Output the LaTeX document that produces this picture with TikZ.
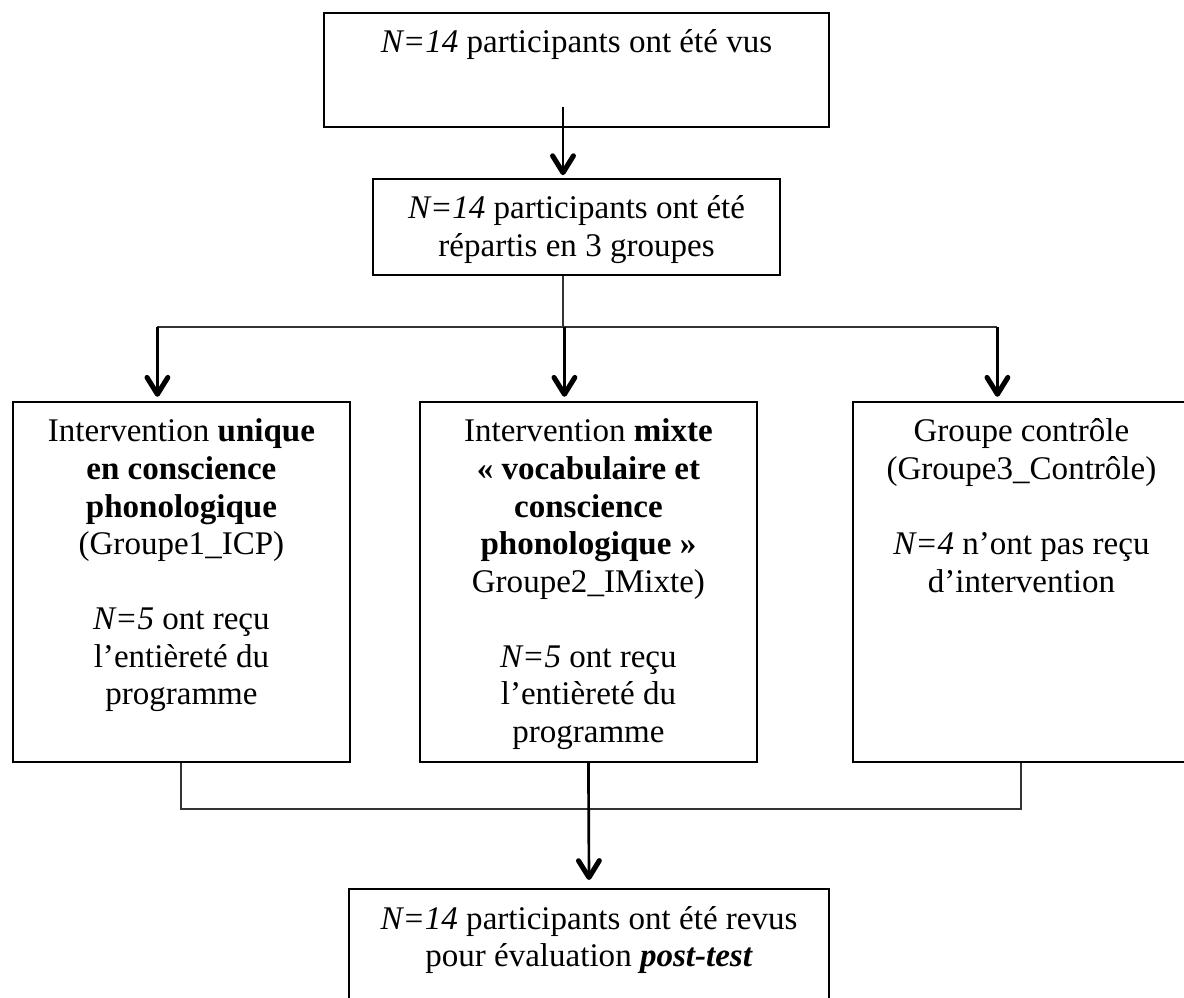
\documentclass[tikz,border=0pt]{standalone}
\usepackage{fontspec}
\setmainfont{Liberation Serif}
\usetikzlibrary{arrows.meta}

% text of a box: fixed size, lines from the top
\newcommand{\boxtext}[3]{\parbox[c][#2][t]{#1}{\centering\fontsize{23.5pt}{26.7pt}\selectfont\rule{0pt}{1cm}#3}}

\begin{document}
\begin{tikzpicture}[x=0.025cm,y=-0.025cm,
  box/.style={draw,line width=1.4pt,inner sep=0pt,anchor=north west},
  link/.style={line width=1.4pt,black!80},
  arr/.style={line width=1.9pt,-{Straight Barb[length=4.2mm,width=5.2mm,line width=3.6pt,round]}}]
  \useasboundingbox (0,0) rectangle (1184,998);

  \node[box] (seen) at (323,12) {\boxtext{12.625cm}{2.85cm}{\textit{N=14} participants ont été vus}};
  \node[box] (split) at (372,178) {\boxtext{10.175cm}{2.4cm}{\textit{N=14} participants ont été\\ répartis en 3 groupes}};

  \node[box] (icp) at (12,401) {\boxtext{8.42cm}{9cm}{Intervention \textbf{unique}\\ \textbf{en conscience}\\ \textbf{phonologique}\\ (Groupe1\_ICP)\\[\baselineskip] \textit{N=5} ont reçu\\ l’entièreté du\\ programme}};
  \node[box] (mixte) at (419,401) {\boxtext{8.42cm}{9cm}{Intervention \textbf{mixte}\\ \textbf{« vocabulaire et}\\ \textbf{conscience}\\ \textbf{phonologique »}\\ Groupe2\_IMixte)\\[\baselineskip] \textit{N=5} ont reçu\\ l’entièreté du\\ programme}};
  \node[box] (ctrl) at (852,401) {\boxtext{8.42cm}{9cm}{Groupe contrôle\\ (Groupe3\_Contrôle)\\[\baselineskip] \textit{N=4} n’ont pas reçu\\ d’intervention}};

  \node[box] (post) at (348,888) {\boxtext{12cm}{2.85cm}{\textit{N=14} participants ont été revus\\ pour évaluation \textbf{\textit{post-test}}}};

  % fan out
  \coordinate (trunk) at (563,327);
  \draw[arr] ([yshift=0.525cm]seen.south -| trunk) -- ([yshift=2pt]split.north -| trunk);
  \draw[link] (split.south -| trunk) -- (trunk);
  \draw[link] ([xshift=-6mm]icp.north |- trunk) -- ([xshift=-6mm]ctrl.north |- trunk);
  \foreach \g in {icp,mixte,ctrl}
    \draw[arr] ([xshift=-6mm]\g.north |- trunk) -- ([xshift=-6mm,yshift=3pt]\g.north);

  % fan in
  \coordinate (merge) at (588,809);
  \draw[link] (icp.south) -- (icp.south |- merge) -- (ctrl.south |- merge) -- (ctrl.south);
  \draw[arr,shorten >=0.2cm] (mixte.south) -- (post.north);
\end{tikzpicture}
\end{document}
